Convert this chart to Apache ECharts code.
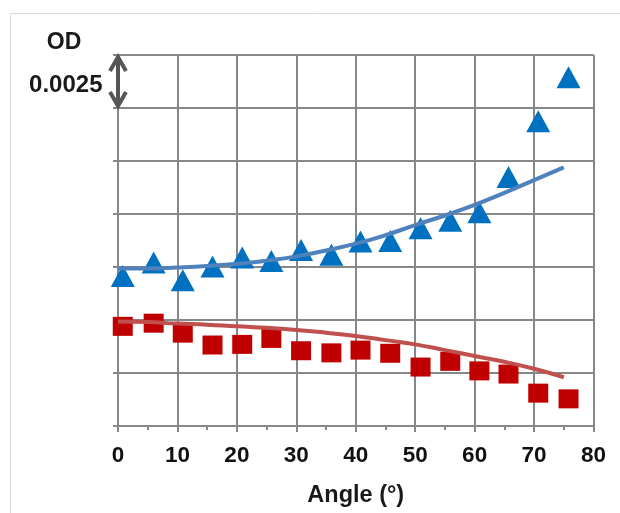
<!DOCTYPE html>
<html>
<head>
<meta charset="utf-8">
<script src="https://cdn.jsdelivr.net/npm/echarts@6/dist/echarts.min.js"></script>
<style>
  html, body { margin: 0; padding: 0; background: #fff; overflow: hidden; }
  #chart { width: 620px; height: 513px; }
</style>
</head>
<body>
<div id="chart"></div>
<script>
// Measured angles (degrees) of the data points
const angles = [0.8, 6.0, 10.9, 15.9, 20.9, 25.8, 30.8, 35.9, 40.8, 45.8, 50.9, 55.9, 60.8, 65.7, 70.7, 75.8];
// Blue triangles (OD)
const triangleOD = [0.00708, 0.00771, 0.00688, 0.00752, 0.00795, 0.00778, 0.00830, 0.00808, 0.00870, 0.00873, 0.00933, 0.00968, 0.01008, 0.01175, 0.01438, 0.01645];
// Red squares (OD)
const squareOD = [0.00470, 0.00485, 0.00438, 0.00382, 0.00385, 0.00413, 0.00355, 0.00345, 0.00358, 0.00343, 0.00278, 0.00305, 0.00260, 0.00245, 0.00155, 0.00128];
const fitAngles = [0, 5, 10, 15, 20, 25, 30, 35, 40, 45, 50, 55, 60, 65, 70, 75];
const blueFit = [0.00743, 0.00743, 0.00748, 0.00755, 0.00765, 0.00780, 0.00800, 0.00828, 0.00860, 0.00900, 0.00948, 0.00993, 0.01043, 0.01100, 0.01160, 0.01220];
const redFit = [0.00493, 0.00490, 0.00483, 0.00478, 0.00470, 0.00463, 0.00453, 0.00440, 0.00425, 0.00405, 0.00385, 0.00358, 0.00330, 0.00303, 0.00270, 0.00230];
// Axis settings
const xMin = 0, xMax = 80, xStep = 10;
const yMin = 0, yMax = 0.0175, yStep = 0.0025;
const xTitle = 'Angle (°)';
const yTitle = 'OD';
const scaleLabel = '0.0025';

const zip = (xs, ys) => xs.map((x, i) => [x, ys[i]]);
const gridColor = '#878787';
const font = '"Liberation Sans", Arial, sans-serif';

const chart = echarts.init(document.getElementById('chart'), null, { renderer: 'canvas', width: 620, height: 513 });
chart.setOption({
  animation: false,
  backgroundColor: '#ffffff',
  grid: { left: 118, width: 475.5, top: 55, height: 376.5, containLabel: false },
  xAxis: {
    type: 'value', min: xMin, max: xMax, interval: xStep,
    name: xTitle, nameLocation: 'middle', nameGap: 58,
    nameTextStyle: { fontFamily: font, fontWeight: 'bold', fontSize: 23.5, color: '#1a1a1a' },
    axisLine: { show: true, lineStyle: { color: gridColor, width: 2 } },
    axisTick: { show: true, length: 6, lineStyle: { color: gridColor, width: 2 } },
    minorTick: { show: true, splitNumber: 2, length: 4, lineStyle: { color: gridColor, width: 2 } },
    axisLabel: { fontFamily: font, fontWeight: 'bold', fontSize: 22.5, color: '#111', margin: 18 },
    splitLine: { show: true, lineStyle: { color: gridColor, width: 2 } }
  },
  yAxis: {
    type: 'value', min: yMin, max: yMax, interval: yStep,
    axisLine: { show: true, lineStyle: { color: gridColor, width: 2 } },
    axisTick: { show: true, length: 5, lineStyle: { color: gridColor, width: 2 } },
    axisLabel: { show: false },
    splitLine: { show: true, lineStyle: { color: gridColor, width: 2 } }
  },
  series: [
    { type: 'scatter', name: 'triangles', data: zip(angles, triangleOD), symbol: 'triangle', symbolSize: [24, 22], itemStyle: { color: '#0070C0', opacity: 1 }, z: 3 },
    { type: 'scatter', name: 'squares', data: zip(angles, squareOD), symbol: 'rect', symbolSize: [20, 19], itemStyle: { color: '#C00000', opacity: 1 }, z: 3 },
    { type: 'line', name: 'blueFit', data: zip(fitAngles, blueFit), smooth: true, showSymbol: false, symbol: 'none', lineStyle: { color: '#4F81BD', width: 4 }, z: 4 },
    { type: 'line', name: 'redFit', data: zip(fitAngles, redFit), smooth: true, showSymbol: false, symbol: 'none', lineStyle: { color: '#C0504D', width: 4 }, z: 4 }
  ]
});

// Scale arrow spanning one grid interval at the top of the y axis
const pTop = chart.convertToPixel({ gridIndex: 0 }, [xMin, yMax]);
const pBot = chart.convertToPixel({ gridIndex: 0 }, [xMin, yMax - yStep]);
const ax = pTop[0], yt = pTop[1] + 2, yb = pBot[1] - 2;
const arrowStyle = { stroke: '#555555', lineWidth: 4, fill: null, lineCap: 'butt', lineJoin: 'miter' };
chart.setOption({
  graphic: [
    { type: 'rect', shape: { x: 10.5, y: 13.5, width: 800, height: 800 }, style: { stroke: '#d9d9d9', lineWidth: 1, fill: null }, silent: true, z: -10 },
    { type: 'line', shape: { x1: ax, y1: yt + 1, x2: ax, y2: yb - 1 }, style: arrowStyle, z: 10 },
    { type: 'polyline', shape: { points: [[ax - 8, yt + 14], [ax, yt], [ax + 8, yt + 14]] }, style: arrowStyle, z: 10 },
    { type: 'polyline', shape: { points: [[ax - 8, yb - 14], [ax, yb], [ax + 8, yb - 14]] }, style: arrowStyle, z: 10 },
    { type: 'text', x: ax - 54, y: pTop[1] - 12, style: { text: yTitle, fontFamily: font, fontWeight: 'bold', fontSize: 23, fill: '#1a1a1a', textAlign: 'center', textVerticalAlign: 'middle' } },
    { type: 'text', x: ax - 15.5, y: (pTop[1] + pBot[1]) / 2 + 4, style: { text: scaleLabel, fontFamily: font, fontWeight: 'bold', fontSize: 24, fill: '#1a1a1a', textAlign: 'right', textVerticalAlign: 'middle' } }
  ]
});
</script>
</body>
</html>
